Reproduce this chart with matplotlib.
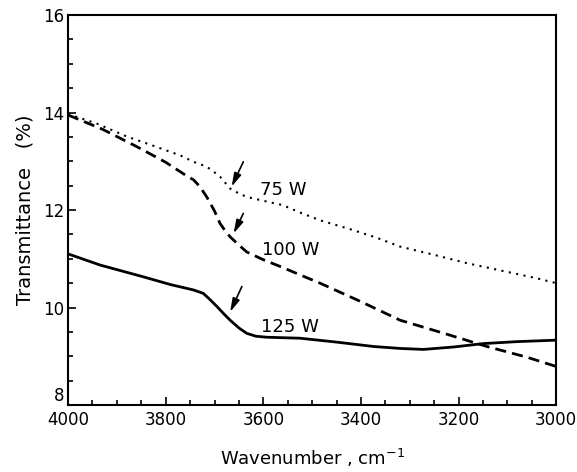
import numpy as np
import matplotlib
matplotlib.use("Agg")
import matplotlib.pyplot as plt
from matplotlib.ticker import MultipleLocator

# values (wavenumber in cm-1, transmittance in %)
wn_75 = [4000, 3940, 3880, 3820, 3770, 3743, 3716, 3690, 3668, 3650, 3634, 3600, 3560, 3525,
         3484, 3420, 3370, 3320, 3250, 3183, 3100, 3040, 3000]
t_75 = [13.97, 13.77, 13.51, 13.3, 13.12, 12.99, 12.89, 12.7, 12.44, 12.34, 12.27, 12.19, 12.1,
        11.95, 11.79, 11.6, 11.44, 11.25, 11.08, 10.91, 10.73, 10.6, 10.5]

wn_100 = [4000, 3930, 3859, 3800, 3757, 3743, 3730, 3716, 3700, 3689, 3678, 3668, 3650, 3634,
          3600, 3560, 3525, 3484, 3400, 3320, 3230, 3142, 3060, 3000]
t_100 = [13.95, 13.66, 13.30, 12.98, 12.7, 12.62, 12.48, 12.27, 11.98, 11.73, 11.57, 11.45, 11.28,
         11.14, 10.98, 10.82, 10.67, 10.50, 10.12, 9.74, 9.47, 9.2, 8.98, 8.79]

wn_125 = [4000, 3934, 3846, 3790, 3743, 3723, 3710, 3695, 3680, 3668, 3650, 3634, 3615, 3593,
          3525, 3450, 3374, 3320, 3272, 3210, 3149, 3080, 3000]
t_125 = [11.1, 10.87, 10.63, 10.47, 10.36, 10.29, 10.17, 10.02, 9.86, 9.74, 9.58, 9.47, 9.41,
         9.39, 9.37, 9.29, 9.2, 9.16, 9.14, 9.19, 9.26, 9.3, 9.33]

labels = ["75 W", "100 W", "125 W"]
label_pos = [(3559, 12.41), (3545, 11.18), (3545, 9.61)]
arrow_start = [(3641, 12.99), (3641, 11.93), (3644, 10.43)]
arrow_end = [(3665, 12.48), (3661, 11.52), (3668, 9.91)]

plt.rcParams['font.family'] = ['DejaVu Sans']

fig = plt.figure(figsize=(5.77, 4.72), dpi=100)
ax = fig.add_axes([0.118, 0.142, 0.846, 0.826])

ax.plot(wn_75, t_75, color="black", lw=1.5, linestyle=(0, (1, 2.6)))
ax.plot(wn_100, t_100, color="black", lw=2.0, linestyle=(0, (4, 2.2)))
ax.plot(wn_125, t_125, color="black", lw=2.0, linestyle="-")

for lab, pos in zip(labels, label_pos):
    ax.text(pos[0], pos[1], lab, fontsize=13, ha="center", va="center")

for s, e in zip(arrow_start, arrow_end):
    ax.annotate("", xy=e, xytext=s,
                arrowprops=dict(arrowstyle="-|>,head_length=0.8,head_width=0.22",
                                color="black", lw=1.2, shrinkA=0, shrinkB=0))

ax.set_xlim(4000, 3000)
ax.set_ylim(8, 16)
ax.xaxis.set_major_locator(MultipleLocator(200))
ax.xaxis.set_minor_locator(MultipleLocator(50))
ax.set_yticks([8, 10, 12, 14, 16])
ax.yaxis.set_minor_locator(MultipleLocator(0.5))
ax.tick_params(which="both", direction="in", top=False, right=False, labelsize=12, width=1.2)
ax.tick_params(which="major", length=6, pad=4)
ax.tick_params(which="minor", length=3.5)
ax.tick_params(axis="y", which="major", pad=3)
ax.yaxis.get_major_ticks()[0].label1.set_verticalalignment("bottom")
for sp in ax.spines.values():
    sp.set_linewidth(1.5)

ax.set_xlabel("Wavenumber , cm$^{-1}$", fontsize=13, labelpad=13)
ax.set_ylabel("Transmittance   (%)", fontsize=14, labelpad=6)

fig.savefig("out.png", dpi=100)
